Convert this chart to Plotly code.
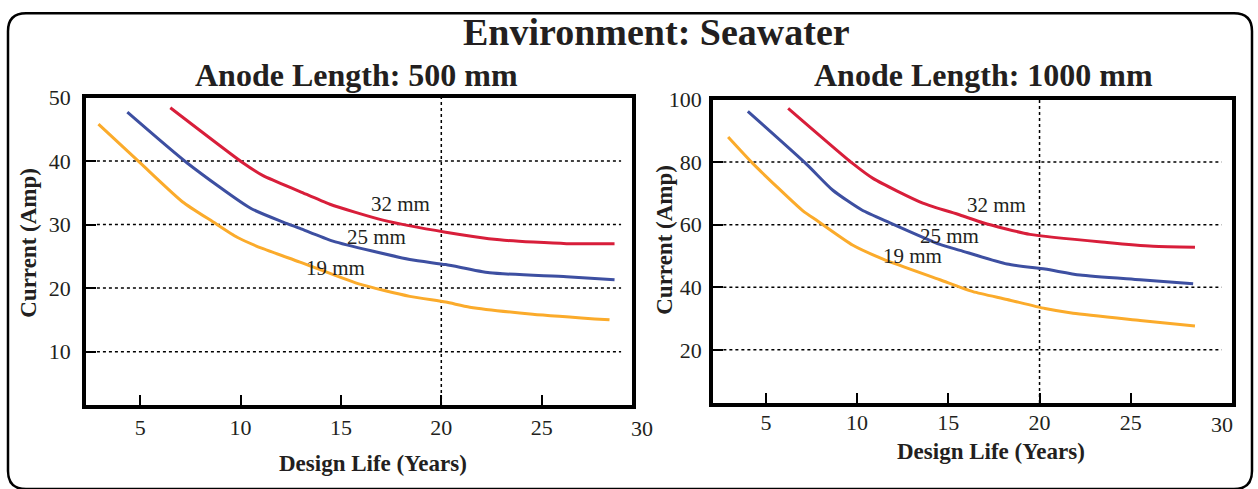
import plotly.graph_objects as go

# ---------------- data ----------------
l500_32_x = [6.50, 10.13, 11.12, 12.96, 14.45, 17.09, 20.22, 22.91, 26.24, 28.63]
l500_32_y = [48.4, 39.7, 37.7, 35.2, 33.2, 30.7, 28.8, 27.6, 27.0, 27.0]
l500_25_x = [4.36, 7.34, 10.48, 12.12, 12.96, 14.60, 18.43, 20.22, 22.41, 26.24, 28.63]
l500_25_y = [47.7, 39.7, 32.6, 30.4, 29.4, 27.4, 24.5, 23.7, 22.4, 21.8, 21.3]
l500_19_x = [2.92, 5.00, 7.10, 8.64, 9.83, 11.12, 12.96, 15.85, 18.43, 20.22, 21.42, 24.55, 28.38]
l500_19_y = [45.8, 39.7, 33.6, 30.4, 28.0, 26.2, 24.1, 20.7, 18.7, 17.8, 17.0, 15.9, 15.0]

l1000_32_x = [6.22, 9.77, 10.87, 13.60, 15.64, 16.90, 19.47, 23.70, 26.22, 28.52]
l1000_32_y = [97.2, 79.5, 74.8, 66.9, 63.1, 60.6, 56.9, 54.3, 53.1, 52.8]
l1000_25_x = [4.01, 7.25, 8.67, 10.26, 11.80, 14.54, 15.64, 18.22, 20.30, 22.22, 25.51, 28.42]
l1000_25_y = [96.2, 79.2, 71.0, 64.7, 60.6, 53.7, 51.8, 47.4, 45.8, 43.9, 42.4, 41.1]
l1000_19_x = [2.93, 4.29, 7.03, 7.80, 9.77, 11.42, 14.54, 16.35, 18.22, 20.30, 21.84, 25.51, 28.52]
l1000_19_y = [88.0, 79.5, 64.4, 61.3, 53.4, 49.0, 42.4, 38.6, 36.1, 33.2, 31.7, 29.4, 27.6]

series_names = ["32 mm", "25 mm", "19 mm"]
series_colors = ["#d81e3a", "#3d4fa1", "#fbab2b"]

lab500_x = [17.99, 16.79, 14.75]
lab500_y = [33.2, 28.0, 23.2]
lab1000_x = [17.66, 15.04, 13.05]
lab1000_y = [66.3, 56.5, 49.9]

x_ticks = [5, 10, 15, 20, 25]
x_last_label = 30
y_ticks_500 = [10, 20, 30, 40, 50]
y_ticks_1000 = [20, 40, 60, 80, 100]
grid_y_500 = [10, 20, 30, 40]
grid_y_1000 = [20, 40, 60, 80]
grid_x = [20]
x_range_500 = [2.3, 29.5]
x_range_1000 = [2.1, 30.55]
y_range_500 = [1.6, 50]
y_range_1000 = [3, 100]

main_title = "Environment: Seawater"
sub_titles = ["Anode Length: 500 mm", "Anode Length: 1000 mm"]
x_title = "Design Life (Years)"
y_title = "Current (Amp)"

W, H = 1258, 489
FONT = "Liberation Serif"
TXT = "#231f20"

# The photographed picture shows page row y at about 12.6 + 0.974*y;
# layout positions below are given as picture rows and converted here.
CAP_OFF, CAP_SCALE = 12.6, 0.974


def px(x):
    return x / W


def py(t):
    page_y = (t - CAP_OFF) / CAP_SCALE
    return 1 - page_y / H


fig = go.Figure()

panels = [
    dict(xs=[l500_32_x, l500_25_x, l500_19_x], ys=[l500_32_y, l500_25_y, l500_19_y],
         xa="x", ya="y", labx=lab500_x, laby=lab500_y, xr=x_range_500),
    dict(xs=[l1000_32_x, l1000_25_x, l1000_19_x], ys=[l1000_32_y, l1000_25_y, l1000_19_y],
         xa="x2", ya="y2", labx=lab1000_x, laby=lab1000_y, xr=x_range_1000),
]

for p in panels:
    for xs, ys, name, col in zip(p["xs"], p["ys"], series_names, series_colors):
        fig.add_trace(go.Scatter(x=xs, y=ys, mode="lines", name=name,
                                 line=dict(color=col, width=3, shape="spline", smoothing=0.6),
                                 xaxis=p["xa"], yaxis=p["ya"], showlegend=False,
                                 hoverinfo="skip"))

axis_common = dict(showline=True, mirror=True, linecolor="black", linewidth=3.5,
                   ticks="inside", ticklen=10, tickwidth=2, tickcolor="black",
                   showgrid=False, zeroline=False, fixedrange=True,
                   tickfont=dict(family=FONT, size=22, color=TXT))

fig.update_layout(
    width=W, height=H, margin=dict(l=0, r=0, t=0, b=0),
    paper_bgcolor="white", plot_bgcolor="white",
    xaxis=dict(domain=[px(86), px(632)], range=x_range_500, tickvals=x_ticks,
               anchor="y", ticklabelstandoff=0, **axis_common),
    yaxis=dict(domain=[py(405), py(98)], range=y_range_500, tickvals=y_ticks_500,
               anchor="x", ticklabelstandoff=7, **axis_common),
    xaxis2=dict(domain=[px(713), px(1232)], range=x_range_1000, tickvals=x_ticks,
                anchor="y2", ticklabelstandoff=-3, **axis_common),
    yaxis2=dict(domain=[py(403), py(100)], range=y_range_1000, tickvals=y_ticks_1000,
                anchor="x2", ticklabelstandoff=3, **axis_common),
)

shapes = []
for gy in grid_y_500:
    shapes.append(dict(type="line", xref="x domain", yref="y", x0=0.02, x1=0.98, y0=gy, y1=gy,
                       line=dict(color="black", width=1.5, dash="dot"), layer="below"))
for gy in grid_y_1000:
    shapes.append(dict(type="line", xref="x2 domain", yref="y2", x0=0.02, x1=0.98, y0=gy, y1=gy,
                       line=dict(color="black", width=1.5, dash="dot"), layer="below"))
for gx in grid_x:
    shapes.append(dict(type="line", xref="x", yref="y domain", x0=gx, x1=gx, y0=0, y1=1,
                       line=dict(color="black", width=1.5, dash="dot"), layer="below"))
    shapes.append(dict(type="line", xref="x2", yref="y2 domain", x0=gx, x1=gx, y0=0, y1=1,
                       line=dict(color="black", width=1.5, dash="dot"), layer="below"))

# rounded outer border (top as high as the page allows)
L, R, r = 8, 1252, 18
T = CAP_OFF + 1.3 * CAP_SCALE
B = 489
path = (f"M {px(L + r)},{py(T)} L {px(R - r)},{py(T)} Q {px(R)},{py(T)} {px(R)},{py(T + r)} "
        f"L {px(R)},{py(B - r)} Q {px(R)},{py(B)} {px(R - r)},{py(B)} "
        f"L {px(L + r)},{py(B)} Q {px(L)},{py(B)} {px(L)},{py(B - r)} "
        f"L {px(L)},{py(T + r)} Q {px(L)},{py(T)} {px(L + r)},{py(T)} Z")
shapes.append(dict(type="path", xref="paper", yref="paper", path=path,
                   line=dict(color="black", width=2.5)))
fig.update_layout(shapes=shapes)

ann = []
ann.append(dict(text=f"<b>{main_title}</b>", x=px(656), y=py(33), xref="paper", yref="paper",
                showarrow=False, font=dict(family=FONT, size=38, color=TXT),
                xanchor="center", yanchor="middle"))
for t, cx in zip(sub_titles, [356, 983]):
    ann.append(dict(text=f"<b>{t}</b>", x=px(cx), y=py(76), xref="paper", yref="paper",
                    showarrow=False, font=dict(family=FONT, size=32, color=TXT),
                    xanchor="center", yanchor="middle"))
for cx, cy in [(373, 463), (991, 451)]:
    ann.append(dict(text=f"<b>{x_title}</b>", x=px(cx), y=py(cy), xref="paper", yref="paper",
                    showarrow=False, font=dict(family=FONT, size=23, color=TXT),
                    xanchor="center", yanchor="middle"))
for cx, cy in [(29, 243), (665, 240)]:
    ann.append(dict(text=f"<b>{y_title}</b>", x=px(cx), y=py(cy), xref="paper", yref="paper",
                    showarrow=False, textangle=-90, font=dict(family=FONT, size=23, color=TXT),
                    xanchor="center", yanchor="middle"))
for p, cy in zip(panels, [428, 424]):
    lo, hi = p["xr"]
    ann.append(dict(text=str(x_last_label), x=(x_last_label - lo) / (hi - lo),
                    xref=p["xa"] + " domain", y=py(cy), yref="paper",
                    showarrow=False, font=dict(family=FONT, size=22, color=TXT),
                    xanchor="center", yanchor="middle"))
for p in panels:
    for name, lx, ly in zip(series_names, p["labx"], p["laby"]):
        ann.append(dict(text=name, x=lx, y=ly, xref=p["xa"], yref=p["ya"], showarrow=False,
                        font=dict(family=FONT, size=21, color=TXT),
                        xanchor="center", yanchor="middle"))
fig.update_layout(annotations=ann)

post = ("document.documentElement.style.margin='0';document.documentElement.style.padding='0';"
        "document.body.style.margin='0';document.body.style.padding='0';"
        "document.documentElement.style.overflow='hidden';document.body.style.overflow='hidden';"
        "var d=document.getElementById('{plot_id}');"
        "d.style.position='absolute';d.style.top='0px';d.style.left='0px';")
fig.write_html("out.html", config={"displayModeBar": False}, post_script=post)
